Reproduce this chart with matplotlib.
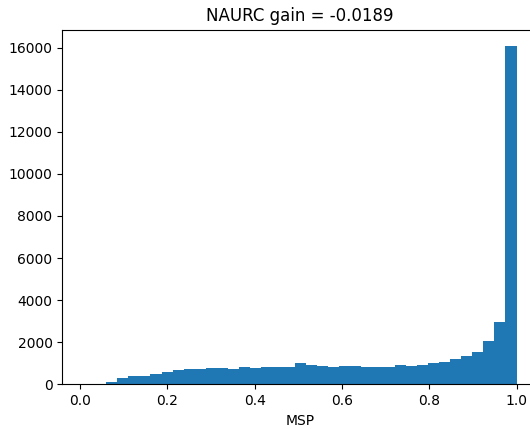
import numpy as np
import matplotlib
matplotlib.use('Agg')
import matplotlib.pyplot as plt

# histogram of MSP scores (39 equal bins from min to max)
msp_min = 0.009
msp_max = 1.0
counts = [0, 30, 127, 285, 410, 415, 507, 571, 666, 712,
          716, 760, 762, 750, 840, 793, 838, 842, 840, 1031,
          936, 888, 840, 888, 885, 840, 842, 838, 936, 888,
          936, 1031, 1045, 1185, 1372, 1562, 2042, 2950, 16050]
title = 'NAURC gain = -0.0189'
xlabel = 'MSP'

edges = np.linspace(msp_min, msp_max, len(counts) + 1)

fig = plt.figure(figsize=(5.3, 4.29), dpi=100)
# axes run past the right border: the original image is cropped there
ax = fig.add_axes([0.1175, 0.104, 0.898, 0.827])
ax.hist(edges[:-1], bins=edges, weights=counts, color='#1f77b4')
ax.set_title(title)
ax.set_xlabel(xlabel)

fig.savefig('out.png', dpi=100, facecolor='white')
